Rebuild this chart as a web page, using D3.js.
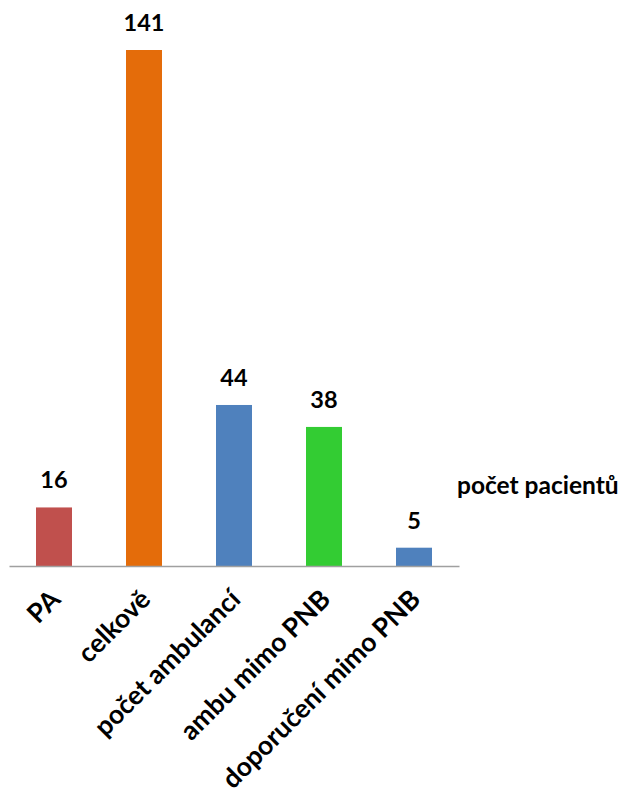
<!DOCTYPE html>
<html>
<head>
<meta charset="utf-8">
<script src="https://cdn.jsdelivr.net/npm/d3@7"></script>
<style>
  html, body { margin: 0; padding: 0; background: #fff; }
  svg { display: block; }
  text { font-family: Lato, "Open Sans", sans-serif; font-weight: 700; fill: #000; }
</style>
</head>
<body>
<svg id="chart" width="624" height="796"></svg>
<script>
// Počet pacientů podle kategorie
const categories = ["PA", "celkově", "počet ambulancí", "ambu mimo PNB", "doporučení mimo PNB"];
const values = [16, 141, 44, 38, 5];
const colors = ["#C0504D", "#E46C0A", "#4F81BD", "#33CC33", "#4F81BD"];
const seriesName = "počet pacientů";

const svg = d3.select("#chart");

const x = d3.scaleBand()
  .domain(categories)
  .range([9, 459])
  .paddingInner(0.6)
  .paddingOuter(0.3);

const y = d3.scaleLinear()
  .domain([0, 141])
  .range([566, 50]);

const data = categories.map((c, i) => ({ cat: c, val: values[i], color: colors[i] }));

// bars
svg.append("g")
  .selectAll("rect")
  .data(data)
  .join("rect")
  .attr("x", d => x(d.cat))
  .attr("y", d => y(d.val))
  .attr("width", x.bandwidth())
  .attr("height", d => y(0) - y(d.val))
  .attr("fill", d => d.color);

// value labels
svg.append("g")
  .selectAll("text")
  .data(data)
  .join("text")
  .attr("x", d => x(d.cat) + x.bandwidth() / 2)
  .attr("y", d => y(d.val) - 19)
  .attr("text-anchor", "middle")
  .style("font-size", "23.5px")
  .text(d => d.val);

// category axis
const axis = d3.axisBottom(x).tickSize(0).tickPadding(0);
const gx = svg.append("g")
  .attr("transform", `translate(0,${y(0)})`)
  .call(axis);
gx.select(".domain").attr("stroke", "#A0A0A0").attr("stroke-width", 1.5);
gx.selectAll(".tick text")
  .attr("text-anchor", "end")
  .attr("dy", null)
  .attr("y", 0)
  .attr("x", 0)
  .attr("transform", "translate(8,35) rotate(-45)")
  .style("font-size", "26.5px")
  .style("font-family", "Lato, 'Open Sans', sans-serif")
  .style("font-weight", "700")
  .attr("fill", "#000");

// series label
svg.append("text")
  .attr("x", 457)
  .attr("y", 494)
  .style("font-size", "24.5px")
  .text(seriesName);
</script>
</body>
</html>
